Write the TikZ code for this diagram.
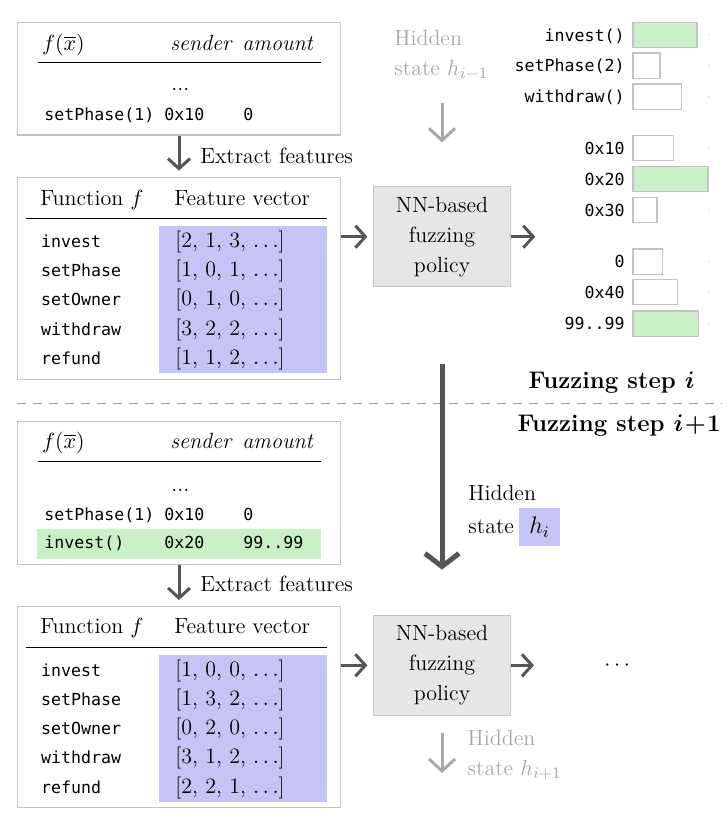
\documentclass[tikz,border=0pt]{standalone}
\usepackage{amsmath}
\usepackage{bm}
\usepackage{xcolor}
\usepackage{fontspec}
\newfontfamily\codefont{DejaVu Sans Mono}
\usepackage{tikz}
\usetikzlibrary{arrows.meta,positioning,fit}

\definecolor{featblue}{RGB}{196,196,247}
\definecolor{pickgreen}{RGB}{201,240,198}
\definecolor{flowgray}{RGB}{85,85,85}
\definecolor{framegray}{RGB}{196,196,196}
\definecolor{ghostgray}{RGB}{168,168,168}
\definecolor{policygray}{RGB}{230,230,230}

\begin{document}
\begin{tikzpicture}[x=0.5pt,y=-0.5pt,font=\fontsize{11}{13}\selectfont]
	\tikzstyle{panel}=[draw=framegray,line width=0.7pt,inner sep=0pt]
	\tikzstyle{cell}=[anchor=base west,inner sep=0pt]
	\tikzstyle{code}=[cell,font=\codefont\fontsize{8.3}{10}\selectfont]
	\tikzstyle{policy}=[draw=framegray,fill=policygray,line width=0.7pt,minimum width=68.7pt,minimum height=50pt,align=center,font=\fontsize{11}{15}\selectfont]
	\tikzstyle{flow}=[flowgray,line width=1.5pt,-{Straight Barb[length=5pt,width=11pt]},shorten >=2.6pt]
	\tikzstyle{ghost}=[ghostgray,line width=1.5pt,-{Straight Barb[length=6pt,width=13pt]}]
	\tikzstyle{bigflow}=[flowgray,line width=2.5pt,-{Straight Barb[length=6.5pt,width=17pt]}]
	\tikzstyle{rule}=[line width=0.7pt]
	\tikzstyle{bar}=[draw=framegray,line width=0.7pt]
	\tikzstyle{steplabel}=[cell,anchor=base east,font=\fontsize{12}{14}\bfseries]

	\useasboundingbox (0,0) rectangle (728,832);

	% step i: calls so far
	\node[panel,fit={(17.3,22.3) (340.7,135)}](tx1){};
	\node[cell](fx1) at (41.7,50){$f(\overline{x})$};
	\node[cell](snd1) at (170,50){\textit{sender}};
	\node[cell](amt1) at (242,50){\textit{amount}};
	\draw[rule] (37.7,62.3) -- (320.7,62.3);
	\node[cell](gap1) at (171,90.7){...};
	\node[code](call1) at (44,120){setPhase(1)};
	\node[code](from1) at (164,120){0x10};
	\node[code](val1) at (243,120){0};

	% step i: features
	\node[panel,fit={(17.3,177.3) (340.7,379.3)}](feat1){};
	\fill[featblue] (159,226) rectangle (326.7,373.3);
	\node[cell](fn1) at (40,205){Function $f$};
	\node[cell](fv1) at (174,205){Feature vector};
	\draw[rule] (25.7,218.7) -- (326.7,218.7);
	\node[code](fa1) at (40.7,247.3){invest};
	\node[code](fb1) at (40.7,276.6){setPhase};
	\node[code](fc1) at (40.7,305.8){setOwner};
	\node[code](fd1) at (40.7,335.1){withdraw};
	\node[code](fe1) at (40.7,364.3){refund};
	\node[cell](va1) at (175,247.3){[2, 1, 3, $\ldots$]};
	\node[cell](vb1) at (175,276.6){[1, 0, 1, $\ldots$]};
	\node[cell](vc1) at (175,305.8){[0, 1, 0, $\ldots$]};
	\node[cell](vd1) at (175,335.1){[3, 2, 2, $\ldots$]};
	\node[cell](ve1) at (175,364.3){[1, 1, 2, $\ldots$]};

	% step i: policy
	\node[policy](nn1) at (442,236.7){NN-based\\fuzzing\\policy};
	\node[cell,text=ghostgray](hprev) at (394,45.7){Hidden};
	\node[cell,text=ghostgray](hprevb) at (394,75){state $h_{i-1}$};
	\coordinate (fade1) at (442,98);
	\coordinate (pick1) at (540.5,236.7);

	% step i: output distributions
	\node[code,anchor=base east](o1) at (625,41){invest()};
	\node[code,anchor=base east](o2) at (625,71.5){setPhase(2)};
	\node[code,anchor=base east](o3) at (625,102.5){withdraw()};
	\node[code,anchor=base east](o4) at (625,154){0x10};
	\node[code,anchor=base east](o5) at (625,185){0x20};
	\node[code,anchor=base east](o6) at (625,216){0x30};
	\node[code,anchor=base east](o7) at (625,267.5){0};
	\node[code,anchor=base east](o8) at (625,298){0x40};
	\node[code,anchor=base east](o9) at (625,329.5){99..99};
	\draw[bar,fill=pickgreen] (633,22.3) rectangle (697,47.7);
	\draw[bar] (633,52.8) rectangle (660,78.2);
	\draw[bar] (633,83.8) rectangle (681.7,109.2);
	\draw[bar] (633,135.3) rectangle (673.7,160.7);
	\draw[bar,fill=pickgreen] (633,166.3) rectangle (708,191.7);
	\draw[bar] (633,197.3) rectangle (657,222.7);
	\draw[bar] (633,248.8) rectangle (662.7,274.2);
	\draw[bar] (633,279.3) rectangle (677.7,304.7);
	\draw[bar,fill=pickgreen] (633,310.8) rectangle (698.7,336.2);
	\fill[black!25] (709,35) circle (0.35pt) (709,65.5) circle (0.35pt) (709,96.5) circle (0.35pt)
		(709,148) circle (0.35pt) (709,179) circle (0.35pt) (709,210) circle (0.35pt)
		(709,261.5) circle (0.35pt) (709,292) circle (0.35pt) (709,323.5) circle (0.35pt);

	% step separator
	\draw[black!40,line width=0.7pt,dash pattern=on 4.5pt off 3.5pt] (17,403.3) -- (722,403.3);
	\node[steplabel](stepi) at (695,388){Fuzzing step $\bm{i}$};
	\node[steplabel](stepj) at (721,431){Fuzzing step $\bm{i}\mkern1mu{\bm{+}}\mkern1mu\bm{1}$};

	% step i+1: calls so far
	\node[panel,fit={(17.3,421.7) (340.7,564.3)}](tx2){};
	\fill[pickgreen] (36.7,529) rectangle (320.7,559);
	\node[cell](fx2) at (41.7,448.3){$f(\overline{x})$};
	\node[cell](snd2) at (170,448.3){\textit{sender}};
	\node[cell](amt2) at (242,448.3){\textit{amount}};
	\draw[rule] (37.7,461.7) -- (320.7,461.7);
	\node[cell](gap2) at (171,491){...};
	\node[code](call2) at (44,520){setPhase(1)};
	\node[code](from2) at (164,520){0x10};
	\node[code](val2) at (243,520){0};
	\node[code](call3) at (44,548.3){invest()};
	\node[code](from3) at (164,548.3){0x20};
	\node[code](val3) at (243,548.3){99..99};

	% step i+1: features
	\node[panel,fit={(17.3,606.7) (340.7,807.7)}](feat2){};
	\fill[featblue] (159,655) rectangle (326.7,801.7);
	\node[cell](fn2) at (40,633.8){Function $f$};
	\node[cell](fv2) at (174,633.8){Feature vector};
	\draw[rule] (25.7,647.5) -- (326.7,647.5);
	\node[code](fa2) at (40.7,676.3){invest};
	\node[code](fb2) at (40.7,705.5){setPhase};
	\node[code](fc2) at (40.7,734.7){setOwner};
	\node[code](fd2) at (40.7,763.9){withdraw};
	\node[code](fe2) at (40.7,793){refund};
	\node[cell](va2) at (175,676.3){[1, 0, 0, $\ldots$]};
	\node[cell](vb2) at (175,705.5){[1, 3, 2, $\ldots$]};
	\node[cell](vc2) at (175,734.7){[0, 2, 0, $\ldots$]};
	\node[cell](vd2) at (175,763.9){[3, 1, 2, $\ldots$]};
	\node[cell](ve2) at (175,793){[2, 2, 1, $\ldots$]};

	% step i+1: policy
	\node[policy](nn2) at (442,665.3){NN-based\\fuzzing\\policy};
	\node[inner sep=0pt](more) at (619,665.3){$\cdots$};
	\node[cell](hcur) at (468,500){Hidden};
	\node[cell](hcurb) at (468,533){state};
	\node[fill=featblue,minimum width=20.5pt,minimum height=19pt,inner sep=0pt,font=\large](hbox) at (539.5,527){$h_i$};
	\node[cell,text=ghostgray](hnext) at (467.3,745){Hidden};
	\node[cell,text=ghostgray](hnextb) at (467.3,775){state $h_{i+1}$};
	\coordinate (fade2) at (442,778);

	% connectors
	\draw[flow,shorten >=3pt] (tx1) -- (feat1);
	\node[cell](ext1) at (200,163){Extract features};
	\draw[flow] (feat1.east |- nn1) -- (nn1);
	\draw[flow] (nn1) -- (pick1);
	\draw[ghost,shorten <=2.5pt,shorten >=21.8pt] (fade1) -- (nn1);
	\draw[bigflow,shorten <=38.2pt,shorten >=22.5pt] (nn1) -- (nn2);
	\draw[flow,shorten >=3pt] (tx2) -- (feat2);
	\node[cell](ext2) at (200,591.7){Extract features};
	\draw[flow] (feat2.east |- nn2) -- (nn2);
	\draw[flow,shorten >=35pt] (nn2) -- (more);
	\draw[ghost,shorten <=8.7pt,shorten >=2.5pt] (nn2) -- (fade2);
\end{tikzpicture}
\end{document}
